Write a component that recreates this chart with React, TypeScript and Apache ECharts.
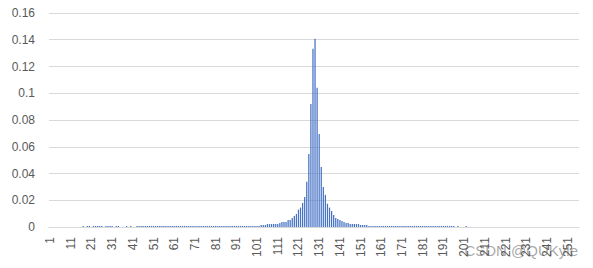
import React, { useEffect, useRef } from 'react';
import * as echarts from 'echarts';

const categories: string[] = Array.from({ length: 256 }, (_, i) => String(i + 1));

// probability per grey level 1..256 (10 per row)
const probabilities: number[] = [
  0, 0, 0, 0, 0, 0, 0, 0, 0, 0,
  0, 0, 0, 0, 0, 0, 0.0008, 0, 0.0008, 0.0008,
  0, 0.0008, 0.0008, 0.0008, 0.0008, 0.0008, 0, 0.0008, 0.0008, 0.0008,
  0.0008, 0, 0.0008, 0.0008, 0, 0, 0, 0.0008, 0, 0.0008,
  0, 0, 0.0008, 0.0008, 0.0008, 0.0008, 0.0008, 0.0008, 0.0008, 0.0008,
  0.0008, 0.0008, 0.0008, 0.0008, 0.0008, 0.0008, 0.0008, 0.0008, 0.0008, 0.0008,
  0.0008, 0.0008, 0.0008, 0.0008, 0.0008, 0.0008, 0.0008, 0.0008, 0.0008, 0.0008,
  0.0008, 0.0008, 0.0008, 0.0008, 0.0008, 0.0008, 0.0008, 0.0008, 0.0008, 0.0008,
  0.0008, 0.0008, 0.0008, 0.0008, 0.0008, 0.0008, 0.0008, 0.0008, 0.0008, 0.0008,
  0.0008, 0.0008, 0.0008, 0.0008, 0.0008, 0.0008, 0.0008, 0.0008, 0.0008, 0.0008,
  0.0008, 0.0008, 0.0015, 0.0015, 0.0015, 0.0022, 0.0022, 0.0022, 0.0022, 0.0022,
  0.0022, 0.003, 0.0037, 0.0037, 0.0037, 0.0052, 0.0052, 0.0067, 0.0082, 0.0097,
  0.013, 0.0145, 0.018, 0.0224, 0.0339, 0.0546, 0.092, 0.1333, 0.1408, 0.1041,
  0.0696, 0.0449, 0.03, 0.024, 0.0174, 0.0145, 0.012, 0.009, 0.0067, 0.006,
  0.0052, 0.0045, 0.0037, 0.003, 0.003, 0.0022, 0.0022, 0.0022, 0.0022, 0.0022,
  0.0015, 0.0015, 0.0015, 0.0015, 0.0008, 0.0008, 0.0008, 0.0008, 0.0008, 0.0008,
  0.0008, 0.0008, 0.0008, 0.0008, 0.0008, 0.0008, 0.0008, 0.0008, 0.0008, 0.0008,
  0.0008, 0.0008, 0.0008, 0.0008, 0.0008, 0.0008, 0.0008, 0.0008, 0.0008, 0.0008,
  0.0008, 0.0008, 0.0008, 0.0008, 0.0008, 0.0008, 0.0008, 0.0008, 0.0008, 0.0008,
  0.0008, 0.0008, 0.0008, 0.0008, 0.0008, 0.0008, 0, 0.0008, 0, 0,
  0, 0.0008, 0, 0, 0, 0, 0, 0, 0, 0,
  0, 0, 0, 0, 0, 0, 0, 0, 0, 0,
  0, 0, 0, 0, 0, 0, 0, 0, 0, 0,
  0, 0, 0, 0, 0, 0, 0, 0, 0, 0,
  0, 0, 0, 0, 0, 0, 0, 0, 0, 0,
  0, 0, 0, 0, 0, 0,
];

const watermark = 'CSDN @QUKyle';

export default function App() {
  const ref = useRef<HTMLDivElement>(null);
  useEffect(() => {
    document.body.style.margin = '0';
    const chart = echarts.init(ref.current!, null, { renderer: 'svg' });
    chart.setOption({
      animation: false,
      textStyle: { fontFamily: 'Liberation Sans' },
      grid: { left: 49, right: 14, top: 13, bottom: 41 },
      xAxis: {
        type: 'category',
        data: categories,
        axisTick: { show: false },
        axisLine: { lineStyle: { color: '#D9D9D9', width: 1 } },
        axisLabel: {
          interval: 9,
          rotate: 90,
          margin: 10,
          color: '#595959',
          fontSize: 12,
        },
      },
      yAxis: {
        type: 'value',
        min: 0,
        max: 0.16,
        interval: 0.02,
        axisLine: { show: false },
        axisTick: { show: false },
        splitLine: { lineStyle: { color: '#D9D9D9', width: 1 } },
        axisLabel: { margin: 14, color: '#595959', fontSize: 12 },
      },
      series: [
        {
          type: 'bar',
          data: probabilities,
          itemStyle: { color: '#4472C4' },
          barCategoryGap: '40%',
        },
      ],
      graphic: [
        {
          type: 'text',
          right: 15,
          top: 243,
          style: {
            text: watermark,
            fill: 'rgba(130,130,130,0.7)',
            font: '15px "Liberation Sans"',
          },
        },
      ],
    });
    return () => chart.dispose();
  }, []);
  return <div ref={ref} style={{ width: 593, height: 268 }} />;
}
